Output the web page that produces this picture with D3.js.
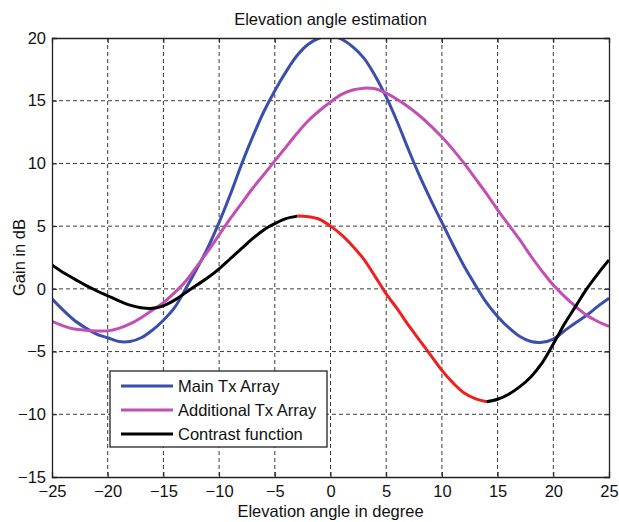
<!DOCTYPE html>
<html>
<head>
<meta charset="utf-8">
<script src="https://cdn.jsdelivr.net/npm/d3@7"></script>
<style>
  body { margin: 0; background: #fff; }
  text { font-family: Arial, "Liberation Sans", Helvetica, sans-serif; fill: #111; }
</style>
</head>
<body>
<div id="chart"></div>
<script>
// values (degree -> dB)
var angles = [-25,-24,-23,-22,-21,-20,-19,-18,-17,-16,-15,-14,-13,-12,-11,-10,-9,-8,-7,-6,-5,-4,-3,-2,-1,
              0,1,2,3,4,5,6,7,8,9,10,11,12,13,14,15,16,17,18,19,20,21,22,23,24,25];

var mainTx = [-0.8,-1.7,-2.5,-3.1,-3.6,-3.9,-4.2,-4.2,-3.9,-3.3,-2.5,-1.5,0.0,1.6,3.3,5.3,7.5,9.9,12.1,14.1,15.8,17.3,18.6,19.5,20.0,
              20.2,19.9,19.3,18.4,17.0,15.3,13.3,11.1,9.0,7.1,5.3,3.5,1.8,0.3,-1.1,-2.2,-3.1,-3.8,-4.2,-4.25,-4.0,-3.35,-2.7,-2.1,-1.4,-0.75];

var additionalTx = [-2.6,-2.95,-3.2,-3.3,-3.35,-3.35,-3.15,-2.8,-2.3,-1.7,-1.1,-0.3,0.6,1.8,3.0,4.3,5.6,6.8,8.0,9.1,10.2,11.3,12.4,13.4,14.2,
                    14.9,15.5,15.85,16.0,15.95,15.6,15.1,14.5,13.8,13.0,12.1,11.1,10.0,8.8,7.6,6.3,5.1,3.9,2.6,1.4,0.3,-0.6,-1.4,-2.1,-2.6,-3.0];

var contrast = [1.9,1.3,0.8,0.3,-0.15,-0.55,-0.95,-1.3,-1.5,-1.55,-1.35,-0.9,-0.3,0.3,0.9,1.6,2.4,3.2,4.0,4.7,5.2,5.6,5.8,5.75,5.55,
                5.0,4.3,3.4,2.35,1.0,-0.4,-1.6,-2.9,-4.1,-5.3,-6.5,-7.5,-8.3,-8.75,-9.0,-8.8,-8.4,-7.8,-7.0,-5.9,-4.4,-2.8,-1.4,0.0,1.2,2.3];

// part of the contrast function drawn in red
var redFrom = -3, redTo = 14;

var xTicks = [-25,-20,-15,-10,-5,0,5,10,15,20,25];
var yTicks = [-15,-10,-5,0,5,10,15,20];

var seriesNames = ["Main Tx Array", "Additional Tx Array", "Contrast function"];
var seriesColors = ["#3a4eab", "#c24fb4", "#000000"];

//set the dimensions and margins of the graph
var margin = {top: 38, right: 10, bottom: 45, left: 52},
    width = 609 - margin.left,
    height = 477 - margin.top;

var svg = d3.select("#chart")
  .append("svg")
    .attr("width", 619)
    .attr("height", 522)
  .append("g")
    .attr("transform", "translate(" + margin.left + "," + margin.top + ")");

var x = d3.scaleLinear().domain([-25, 25]).range([0, width]);
var y = d3.scaleLinear().domain([-15, 20]).range([height, 0]);

// dashed grid
svg.append("g").selectAll("line")
  .data(xTicks.slice(1, -1))
  .enter().append("line")
    .attr("x1", function(d) { return x(d); })
    .attr("x2", function(d) { return x(d); })
    .attr("y1", 0).attr("y2", height)
    .attr("stroke", "#3a3a3a").attr("stroke-width", 1)
    .attr("stroke-dasharray", "4,3");

svg.append("g").selectAll("line")
  .data(yTicks.slice(1, -1))
  .enter().append("line")
    .attr("y1", function(d) { return y(d); })
    .attr("y2", function(d) { return y(d); })
    .attr("x1", 0).attr("x2", width)
    .attr("stroke", "#3a3a3a").attr("stroke-width", 1)
    .attr("stroke-dasharray", "4,3");

// clip to the axes box
svg.append("defs").append("clipPath")
  .attr("id", "clip")
  .append("rect")
    .attr("width", width)
    .attr("height", height);

var plot = svg.append("g").attr("clip-path", "url(#clip)");

var line = d3.line()
  .x(function(d) { return x(d[0]); })
  .y(function(d) { return y(d[1]); })
  .curve(d3.curveCatmullRom);

function pairs(vals, lo, hi) {
  var out = [];
  angles.forEach(function(a, i) {
    if (a >= lo && a <= hi) out.push([a, vals[i]]);
  });
  return out;
}

plot.append("path")
  .attr("d", line(pairs(mainTx, -25, 25)))
  .attr("fill", "none").attr("stroke", seriesColors[0]).attr("stroke-width", 3);

plot.append("path")
  .attr("d", line(pairs(additionalTx, -25, 25)))
  .attr("fill", "none").attr("stroke", seriesColors[1]).attr("stroke-width", 3);

plot.append("path")
  .attr("d", line(pairs(contrast, -25, redFrom)))
  .attr("fill", "none").attr("stroke", "#000").attr("stroke-width", 3);

plot.append("path")
  .attr("d", line(pairs(contrast, redFrom, redTo)))
  .attr("fill", "none").attr("stroke", "#f01e1e").attr("stroke-width", 3);

plot.append("path")
  .attr("d", line(pairs(contrast, redTo, 25)))
  .attr("fill", "none").attr("stroke", "#000").attr("stroke-width", 3);

// axes, ticks pointing inwards like matlab
var xAxis = svg.append("g")
  .attr("transform", "translate(0," + height + ")")
  .call(d3.axisBottom(x).tickValues(xTicks).tickSize(-5).tickPadding(8));
var yAxis = svg.append("g")
  .call(d3.axisLeft(y).tickValues(yTicks).tickSize(-5).tickPadding(6));
svg.append("g")
  .call(d3.axisTop(x).tickValues(xTicks).tickSize(-5).tickFormat(""));
svg.append("g")
  .attr("transform", "translate(" + width + ",0)")
  .call(d3.axisRight(y).tickValues(yTicks).tickSize(-5).tickFormat(""));

svg.selectAll(".domain").attr("stroke", "#222").attr("stroke-width", 1.3);
svg.selectAll(".tick line").attr("stroke", "#222");
svg.selectAll(".tick text")
  .style("font-size", "16.5px")
  .style("font-family", "Arial, 'Liberation Sans', Helvetica, sans-serif")
  .attr("fill", "#111");

// title and axis labels
svg.append("text")
  .attr("x", width / 2)
  .attr("y", 25 - margin.top)
  .style("text-anchor", "middle")
  .style("font-size", "16.5px")
  .text("Elevation angle estimation");

svg.append("text")
  .attr("x", width / 2)
  .attr("y", 517 - margin.top)
  .style("text-anchor", "middle")
  .style("font-size", "16.5px")
  .text("Elevation angle in degree");

svg.append("text")
  .attr("transform", "rotate(-90)")
  .attr("x", -height / 2)
  .attr("y", 25 - margin.left)
  .style("text-anchor", "middle")
  .style("font-size", "16.5px")
  .text("Gain in dB");

// legend
var legend = svg.append("g")
  .attr("transform", "translate(" + (110 - margin.left) + "," + (371 - margin.top) + ")");

legend.append("rect")
  .attr("width", 217)
  .attr("height", 76)
  .attr("fill", "#fff")
  .attr("stroke", "#222")
  .attr("stroke-width", 1.3);

var items = legend.selectAll("g.item")
  .data(seriesNames)
  .enter().append("g")
    .attr("class", "item")
    .attr("transform", function(d, i) { return "translate(0," + (15 + i * 24) + ")"; });

items.append("line")
  .attr("x1", 11).attr("x2", 63)
  .attr("y1", 0).attr("y2", 0)
  .attr("stroke", function(d, i) { return seriesColors[i]; })
  .attr("stroke-width", 3);

items.append("text")
  .attr("x", 68)
  .attr("y", 6)
  .style("font-size", "16.5px")
  .text(function(d) { return d; });
</script>
</body>
</html>
